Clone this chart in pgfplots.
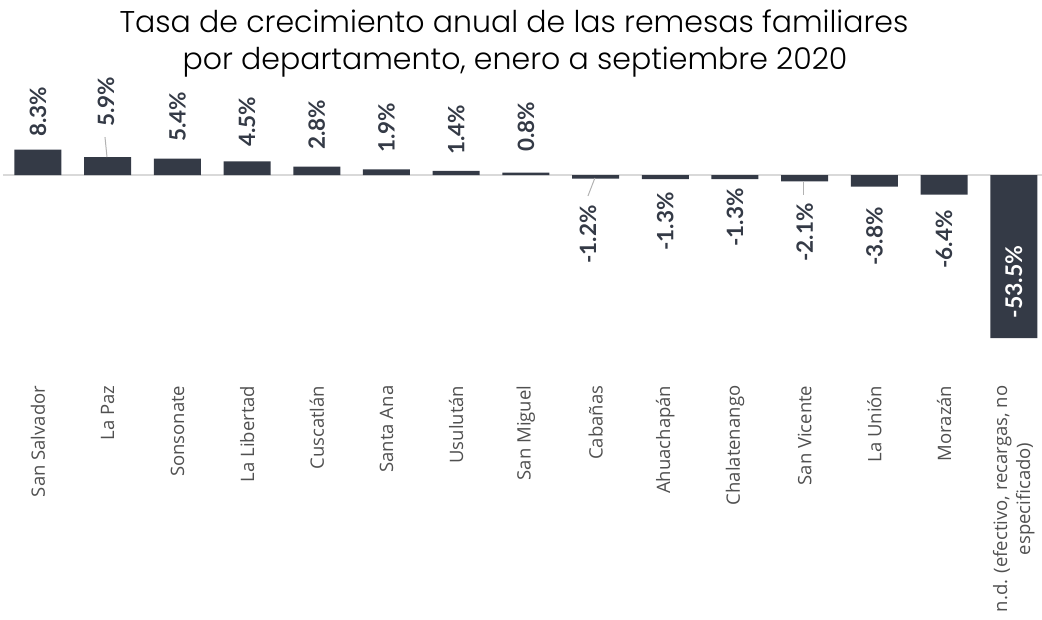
\documentclass[border=0pt]{standalone}
\usepackage{fontspec}
\usepackage{pgfplots}
\pgfplotsset{compat=1.18}
\usepackage{pgfplotstable}
\setmainfont{Open Sans}
\newfontfamily\labfont{Lato}
\newfontfamily\titlefont{Poppins}[UprightFont=* Light]
\definecolor{barc}{HTML}{343A46}
\definecolor{tickc}{HTML}{505050}
\definecolor{linec}{HTML}{D9D9D9}

\pgfplotstableread{
x y
0 8.3
1 5.9
2 5.4
3 4.5
4 2.8
5 1.9
6 1.4
7 0.8
8 -1.2
9 -1.3
10 -1.3
11 -2.1
12 -3.8
13 -6.4
14 -53.5
}\data

\pgfplotstableread{
x ly lab
0 12.46 8.3
0.976 15.74 5.9
2 10.82 5.4
3 9.18 4.5
4 8.20 2.8
5 7.21 1.9
6 6.56 1.4
7 7.54 0.8
}\poslab

\pgfplotstableread{
x ly lab
7.89 -9.84 -1.2
9 -5.57 -1.3
10 -4.26 -1.3
11 -9.18 -2.1
12 -10.49 -3.8
13 -11.48 -6.4
}\neglab

\pgfplotstableread{
x ly lab
14 -35.08 -53.5
}\inlab

\begin{document}
\begin{tikzpicture}
\useasboundingbox (0,0) rectangle (1042pt,620pt);
\begin{axis}[
  at={(0pt,234.5pt)}, anchor=south west,
  scale only axis, width=1042pt, height=247.05pt,
  xmin=-0.5452, xmax=14.405, ymin=-69, ymax=12,
  axis line style={draw=none}, major tick length=0pt,
  ytick=\empty,
  xtick={0,...,14},
  xticklabels={San Salvador, La Paz, Sonsonate, La Libertad, Cuscatlán, Santa Ana, Usulután, San Miguel, Cabañas, Ahuachapán, Chalatenango, San Vicente, La Unión, Morazán, {n.d. (efectivo, recargas, no\\especificado)}},
  xticklabel style={rotate=90, anchor=east, inner sep=0pt, font=\fontsize{18.5}{23}\selectfont, text=tickc, align=center},
  clip=false,
]
\draw[linec, line width=1.5pt] (axis cs:-0.5,0) -- (axis cs:14.405,0);
\addplot[ybar, bar width=47pt, bar shift=0pt, fill=barc, draw=none] table[x=x,y=y]{\data};
\addplot[draw=none, mark=none, nodes near coords={\pgfplotspointmeta\%}, point meta=explicit symbolic,
  every node near coord/.style={rotate=90, anchor=west, inner sep=0pt, text=barc, font=\labfont\bfseries\fontsize{22.5}{26}\selectfont}]
  table[x=x,y=ly,meta=lab]{\poslab};
\addplot[draw=none, mark=none, nodes near coords={\pgfplotspointmeta\%}, point meta=explicit symbolic,
  every node near coord/.style={rotate=90, anchor=east, inner sep=0pt, text=barc, font=\labfont\bfseries\fontsize{22.5}{26}\selectfont}]
  table[x=x,y=ly,meta=lab]{\neglab};
\addplot[draw=none, mark=none, nodes near coords={\pgfplotspointmeta\%}, point meta=explicit symbolic,
  every node near coord/.style={rotate=90, anchor=center, inner sep=0pt, text=white, font=\labfont\bfseries\fontsize{23}{27}\selectfont}]
  table[x=x,y=ly,meta=lab]{\inlab};
\draw[gray!60, line width=1pt] (axis cs:0.99,5.9) -- (axis cs:0.961,12.46);
\draw[gray!60, line width=1pt] (axis cs:7.99,-0.98) -- (axis cs:7.89,-6.89);
\draw[gray!60, line width=1pt] (axis cs:10.99,-2.3) -- (axis cs:10.99,-6.56);
\end{axis}
\node[anchor=base, font=\titlefont\fontsize{30}{36}\selectfont] at (514pt,587pt) {Tasa de crecimiento anual de las remesas familiares};
\node[anchor=base, font=\titlefont\fontsize{30}{36}\selectfont] at (515pt,550pt) {por departamento, enero a septiembre 2020};
\end{tikzpicture}
\end{document}
